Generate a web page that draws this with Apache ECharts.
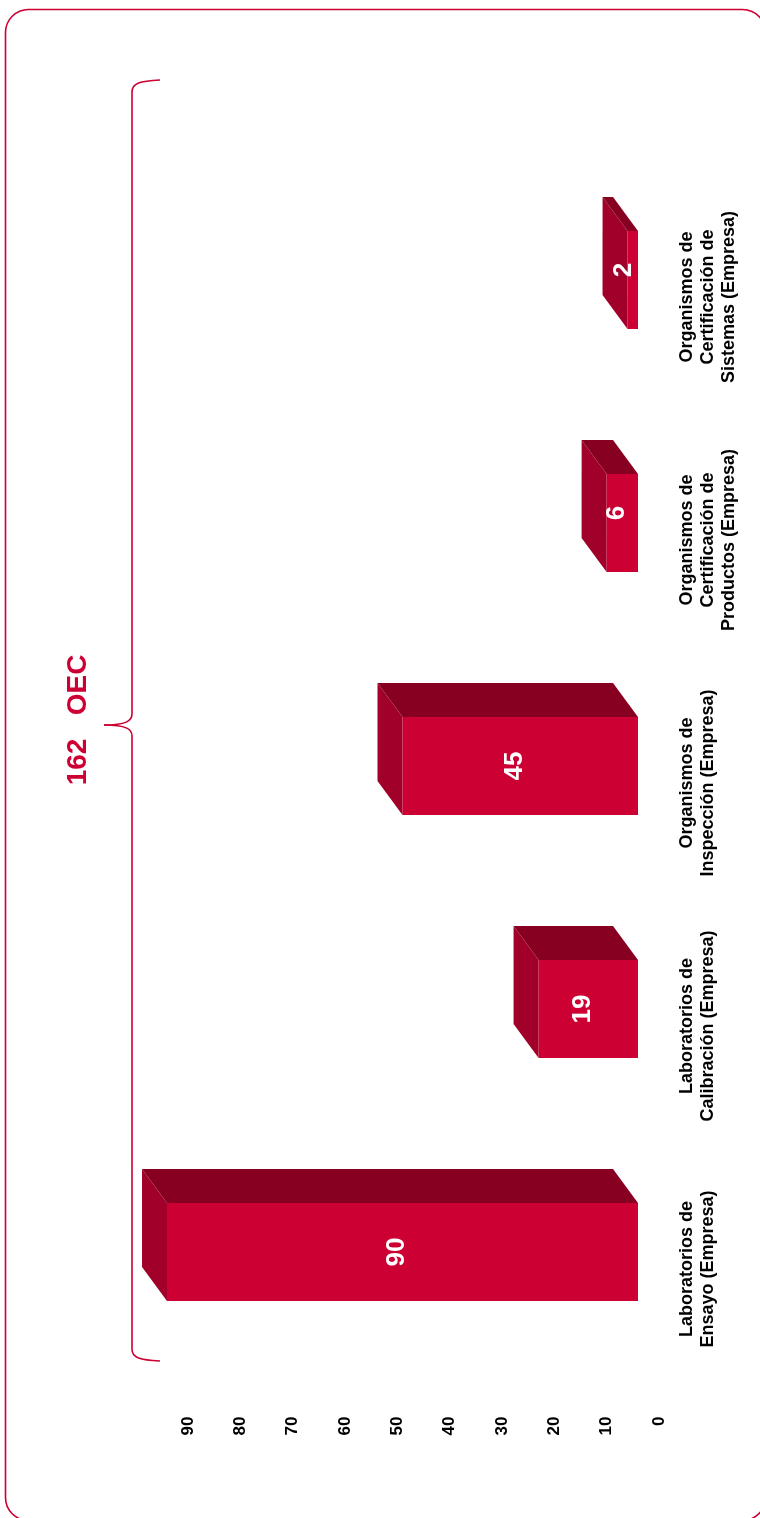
<!DOCTYPE html>
<html>
<head>
<meta charset="utf-8">
<script src="https://cdn.jsdelivr.net/npm/echarts@6/dist/echarts.min.js"></script>
<style>
html,body{margin:0;padding:0;background:#fff;}
#c{width:760px;height:1518px;}
</style>
</head>
<body>
<div id="c"></div>
<script>
const categories = [
  'Laboratorios de\nEnsayo (Empresa)',
  'Laboratorios de\nCalibración (Empresa)',
  'Organismos de\nInspección (Empresa)',
  'Organismos de\nCertificación de\nProductos (Empresa)',
  'Organismos de\nCertificación de\nSistemas (Empresa)'
];
const values = [90, 19, 45, 6, 2];
const valueMin = 0, valueMax = 90, valueStep = 10;
const totalLabel = '162   OEC';

const RED = '#CC0033', DARK = '#870022', SIDE = '#A0002A';
const FONT = '"Liberation Sans", Arial, sans-serif';
const DX = -25, DY = -34;

const chart = echarts.init(document.getElementById('c'), null, {renderer: 'canvas'});

function renderItem(params, api) {
  const idx = api.value(1);
  const v = api.value(0);
  const p0 = api.coord([0, idx]);
  const p1 = api.coord([v, idx]);
  const band = api.size([0, 1])[1];
  const h = band * 0.403;
  const xr = p0[0], xl = p1[0];
  const yT = p0[1] - h / 2, yB = p0[1] + h / 2;
  const lp = api.coord([Math.max(v / 2 + 1, 2.8), idx]);
  return {
    type: 'group',
    children: [
      {type: 'polygon', shape: {points: [[xl, yT], [xr, yT], [xr + DX, yT + DY], [xl + DX, yT + DY]]}, style: {fill: DARK}},
      {type: 'polygon', shape: {points: [[xl, yT], [xl + DX, yT + DY], [xl + DX, yB + DY], [xl, yB]]}, style: {fill: SIDE}},
      {type: 'rect', shape: {x: xl, y: yT, width: xr - xl, height: yB - yT}, style: {fill: RED}},
      {type: 'text', x: lp[0], y: lp[1] + (v < 10 ? -10 : 0), rotation: Math.PI / 2,
        style: {text: String(v), fill: '#fff', font: 'bold 26px ' + FONT, align: 'center', verticalAlign: 'middle'}}
    ]
  };
}

const braceStyle = {fill: 'none', stroke: RED, lineWidth: 1.6};
const option = {
  animation: false,
  backgroundColor: '#fff',
  grid: [
    {left: 167, right: 122, top: 158.5, bottom: 144.5, containLabel: false},
    {left: 188, right: 101, top: 175.5, bottom: 127.5, containLabel: false}
  ],
  xAxis: [
    {type: 'value', gridIndex: 0, min: valueMin, max: valueMax, inverse: true, show: false},
    {type: 'value', gridIndex: 1, min: valueMin, max: valueMax, interval: valueStep, inverse: true, position: 'bottom',
      axisLine: {show: false}, axisTick: {show: false}, splitLine: {show: false},
      axisLabel: {rotate: 90, margin: 26, fontSize: 17, fontWeight: 'bold', color: '#000', fontFamily: FONT}}
  ],
  yAxis: [
    {type: 'category', gridIndex: 0, data: categories, show: false},
    {type: 'category', gridIndex: 1, data: categories, position: 'right',
      axisLine: {show: false}, axisTick: {show: false}, splitLine: {show: false},
      axisLabel: {rotate: 90, margin: 18, fontSize: 18, fontWeight: 'bold', color: '#000', fontFamily: FONT, lineHeight: 21, interval: 0}}
  ],
  series: [{
    type: 'custom',
    xAxisIndex: 0, yAxisIndex: 0,
    renderItem: renderItem,
    data: values.map((v, i) => [v, i])
  }],
  graphic: [
    {type: 'rect', shape: {x: 5.5, y: 9.5, width: 760, height: 1511, r: 23}, style: {fill: 'none', stroke: RED, lineWidth: 1.6}, silent: true},
    {type: 'bezierCurve', shape: {x1: 160, y1: 80, cpx1: 140, cpy1: 81, cpx2: 132, cpy2: 83, x2: 132, y2: 92}, style: braceStyle, silent: true},
    {type: 'line', shape: {x1: 132, y1: 92, x2: 132, y2: 714}, style: braceStyle, silent: true},
    {type: 'bezierCurve', shape: {x1: 132, y1: 714, cpx1: 132, cpy1: 721, cpx2: 126, cpy2: 725, x2: 104, y2: 725}, style: braceStyle, silent: true},
    {type: 'bezierCurve', shape: {x1: 104, y1: 725, cpx1: 126, cpy1: 725, cpx2: 132, cpy2: 729, x2: 132, y2: 736}, style: braceStyle, silent: true},
    {type: 'line', shape: {x1: 132, y1: 736, x2: 132, y2: 1349}, style: braceStyle, silent: true},
    {type: 'bezierCurve', shape: {x1: 132, y1: 1349, cpx1: 132, cpy1: 1358, cpx2: 140, cpy2: 1360, x2: 160, y2: 1361}, style: braceStyle, silent: true},
    {type: 'text', x: 78, y: 720, rotation: Math.PI / 2,
      style: {text: totalLabel, fill: RED, font: 'bold 28px ' + FONT, align: 'center', verticalAlign: 'middle'}, silent: true}
  ]
};
chart.setOption(option);
</script>
</body>
</html>
